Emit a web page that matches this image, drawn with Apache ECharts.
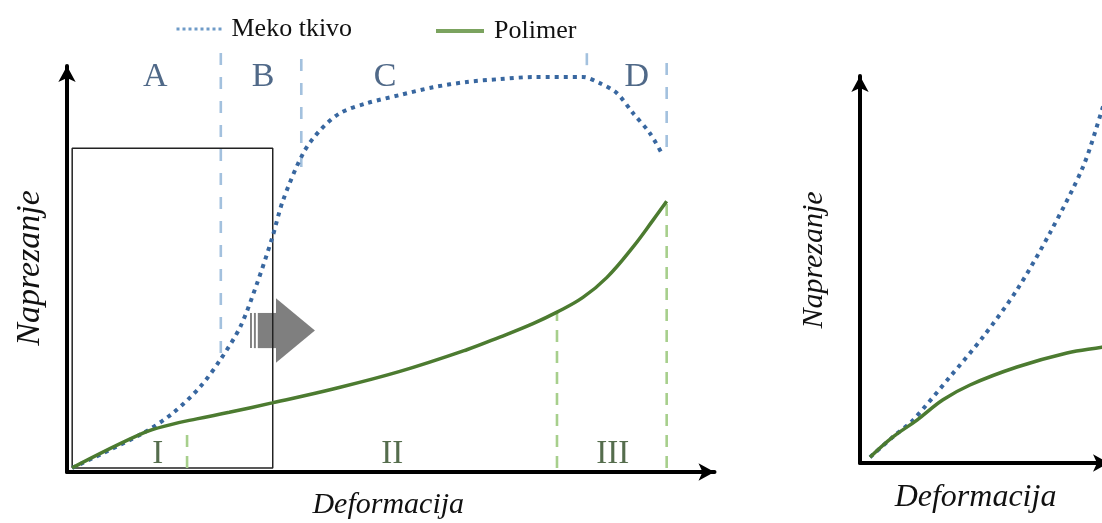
<!DOCTYPE html>
<html>
<head>
<meta charset="utf-8">
<script src="https://cdn.jsdelivr.net/npm/echarts@6/dist/echarts.min.js"></script>
<style>
  html, body { margin: 0; padding: 0; background: #ffffff; }
  #chart { width: 1102px; height: 523px; }
</style>
</head>
<body>
<div id="chart"></div>
<script>
// ---------- data (arbitrary strain / stress units) ----------
const seriesNames = ['Meko tkivo', 'Polimer'];

// left panel: full curves
const tissueStrain = [0.8, 11.7, 16.3, 20.5, 23.6, 26.7, 29.3, 31.6, 33.3, 36.4, 39.0, 42.1, 46.2, 51.3, 56.4, 61.6, 66.7, 71.8, 79.5, 82.1, 84.7, 87.2, 89.8, 91.8];
const tissueStress = [1.0, 9.5, 14.4, 20.8, 27.4, 35.5, 46.2, 57.2, 66.5, 78.0, 83.6, 87.8, 90.2, 92.2, 94.1, 95.4, 96.1, 96.6, 96.6, 95.1, 92.7, 87.8, 82.9, 77.5];
const polymerStrain = [0.8, 11.7, 16.0, 20.0, 25.0, 31.6, 41.0, 51.3, 61.6, 66.7, 71.8, 75.5, 79.5, 83.2, 87.2, 90.3, 92.4];
const polymerStress = [1.0, 9.5, 11.6, 13.0, 14.6, 16.9, 20.3, 24.6, 29.9, 33.0, 36.3, 39.1, 42.7, 47.6, 55.0, 61.6, 66.2];

// right panel: zoom of the initial region
const tissueZoomStrain = [2.5, 8.25, 13.25, 22.5, 30.75, 39.25, 47.5, 55.75, 60.5, 63.0];
const tissueZoomStress = [1.5, 6.7, 11.0, 22.1, 32.3, 44.4, 59.0, 75.9, 90.5, 99.0];
const polymerZoomStrain = [2.5, 8.25, 14.25, 20.75, 27.5, 39.25, 51.75, 60.5, 64.0];
const polymerZoomStress = [1.5, 6.7, 11.0, 16.2, 20.0, 24.6, 28.2, 29.7, 30.4];

// tissue region boundaries (A|B|C|D) and polymer region boundaries (I|II|III)
const tissueBounds = [23.7, 36.1, 80.1, 92.4];
const tissueBoundLow = [29.1, 74.6, 99.5, 79.5];
const tissueBoundHigh = [102.7, 102.7, 102.7, 102.7];
const polymerBounds = [18.5, 75.5, 92.4];
const polymerBoundLow = [1.0, 1.0, 1.0];
const polymerBoundHigh = [11.0, 39.1, 66.2];

// region labels
const tissueRegions = ['A', 'B', 'C', 'D'];
const tissueRegionX = [13.6, 30.2, 49.0, 87.8];
const tissueRegionY = 96.6;
const polymerRegions = ['I', 'II', 'III'];
const polymerRegionX = [14.0, 50.1, 84.1];
const polymerRegionY = 4.4;

// zoom window (rectangle) in left panel
const zoomBoxX = [0.8, 31.7];
const zoomBoxY = [1.0, 79.2];

// arrow glyph (data coords in left panel)
const arrowBodyX = [28.2, 32.2];
const arrowBodyY = [30.3, 38.9];
const arrowHeadY = [26.7, 42.5];
const arrowTipX = 38.2;
const arrowStripes = [[28.2, 28.5], [28.8, 29.1], [29.4, 32.2]];

const axisTitleX = 'Deformacija';
const axisTitleY = 'Naprezanje';

// ---------- styles ----------
const SERIF = '"Liberation Serif", "DejaVu Serif", serif';
const BLUE = '#3867a0';
const GREEN = '#4c7b30';
const LIGHT_BLUE = '#a3c1de';
const LIGHT_GREEN = '#a7cf8c';

const zip = (xs, ys) => xs.map((x, i) => [x, ys[i]]);

const tissueLine = { type: [4, 5], width: 4, color: BLUE };
const polymerLine = { type: 'solid', width: 3.5, color: GREEN };

const series = [];

// arrow (behind rectangle)
series.push({
  type: 'custom', xAxisIndex: 0, yAxisIndex: 0, silent: true, z: 1,
  data: [[arrowBodyX[0], arrowBodyY[0]]],
  renderItem: function (params, api) {
    const children = arrowStripes.map(function (s) {
      const p0 = api.coord([s[0], arrowBodyY[1]]);
      const p1 = api.coord([s[1], arrowBodyY[0]]);
      return { type: 'rect', shape: { x: p0[0], y: p0[1], width: p1[0] - p0[0], height: p1[1] - p0[1] },
               style: { fill: '#7f7f7f' } };
    });
    const mid = (arrowBodyY[0] + arrowBodyY[1]) / 2;
    const h = [
      api.coord([arrowBodyX[1], arrowHeadY[1]]),
      api.coord([arrowTipX, mid]),
      api.coord([arrowBodyX[1], arrowHeadY[0]])
    ];
    children.push({ type: 'polygon', shape: { points: h }, style: { fill: '#7f7f7f' } });
    return { type: 'group', children: children };
  }
});

// zoom rectangle
series.push({
  type: 'line', xAxisIndex: 0, yAxisIndex: 0, silent: true, symbol: 'none', z: 2,
  data: [[zoomBoxX[0], zoomBoxY[0]], [zoomBoxX[1], zoomBoxY[0]], [zoomBoxX[1], zoomBoxY[1]],
         [zoomBoxX[0], zoomBoxY[1]], [zoomBoxX[0], zoomBoxY[0]]],
  lineStyle: { color: '#222', width: 1.5 }
});

// region boundary dashed lines
tissueBounds.forEach(function (x, i) {
  series.push({
    type: 'line', xAxisIndex: 0, yAxisIndex: 0, silent: true, symbol: 'none', clip: false, z: 2,
    data: [[x, tissueBoundLow[i]], [x, tissueBoundHigh[i]]],
    lineStyle: { color: LIGHT_BLUE, width: 2.6, type: [12, 12] }
  });
});
polymerBounds.forEach(function (x, i) {
  series.push({
    type: 'line', xAxisIndex: 0, yAxisIndex: 0, silent: true, symbol: 'none', clip: false, z: 2,
    data: [[x, polymerBoundLow[i]], [x, polymerBoundHigh[i]]],
    lineStyle: { color: LIGHT_GREEN, width: 2.6, type: [12, 9] }
  });
});

// curves, left
series.push({
  name: seriesNames[0], type: 'line', xAxisIndex: 0, yAxisIndex: 0, symbol: 'none', smooth: 0.3, z: 3,
  data: zip(tissueStrain, tissueStress), lineStyle: tissueLine, itemStyle: { color: BLUE }
});
series.push({
  name: seriesNames[1], type: 'line', xAxisIndex: 0, yAxisIndex: 0, symbol: 'none', smooth: 0.4, z: 4,
  data: zip(polymerStrain, polymerStress), lineStyle: polymerLine, itemStyle: { color: GREEN }
});
// curves, right
series.push({
  name: seriesNames[0], type: 'line', xAxisIndex: 1, yAxisIndex: 1, symbol: 'none', smooth: 0.3, z: 3,
  data: zip(tissueZoomStrain, tissueZoomStress), lineStyle: tissueLine, itemStyle: { color: BLUE }
});
series.push({
  name: seriesNames[1], type: 'line', xAxisIndex: 1, yAxisIndex: 1, symbol: 'none', smooth: 0.4, z: 4,
  data: zip(polymerZoomStrain, polymerZoomStress), lineStyle: polymerLine, itemStyle: { color: GREEN }
});

// region labels
series.push({
  type: 'scatter', xAxisIndex: 0, yAxisIndex: 0, silent: true, symbolSize: 0, clip: false, z: 5,
  data: tissueRegions.map(function (n, i) { return { name: n, value: [tissueRegionX[i], tissueRegionY] }; }),
  label: { show: true, position: 'inside', formatter: '{b}', fontFamily: SERIF, fontSize: 34, color: '#24446a' }
});
series.push({
  type: 'scatter', xAxisIndex: 0, yAxisIndex: 0, silent: true, symbolSize: 0, clip: false, z: 5,
  data: polymerRegions.map(function (n, i) { return { name: n, value: [polymerRegionX[i], polymerRegionY] }; }),
  label: { show: true, position: 'inside', formatter: '{b}', fontFamily: SERIF, fontSize: 33, color: '#2a4820' }
});

const axisLine = {
  show: true, symbol: ['none', 'arrow'], symbolSize: [13, 16],
  lineStyle: { color: '#000', width: 4 }
};
const hidden = { axisTick: { show: false }, axisLabel: { show: false }, splitLine: { show: false } };

const option = {
  backgroundColor: '#ffffff',
  animation: false,
  grid: [
    { left: 67, top: 66, width: 647.5, height: 406, outerBoundsMode: 'none', containLabel: false },
    { left: 860, top: 76, width: 249, height: 387, outerBoundsMode: 'none', containLabel: false }
  ],
  xAxis: [
    Object.assign({ type: 'value', gridIndex: 0, min: 0, max: 99.77, axisLine: axisLine,
      name: axisTitleX, nameLocation: 'middle', nameGap: 18,
      nameTextStyle: { fontFamily: SERIF, fontStyle: 'italic', fontSize: 30, color: '#111', padding: [0, 5, 0, 0] } }, hidden),
    Object.assign({ type: 'value', gridIndex: 1, min: 0, max: 62.25, axisLine: axisLine,
      name: axisTitleX, nameLocation: 'middle', nameGap: 19,
      nameTextStyle: { fontFamily: SERIF, fontStyle: 'italic', fontSize: 32, color: '#111', padding: [0, 18, 0, 0] } }, hidden)
  ],
  yAxis: [
    Object.assign({ type: 'value', gridIndex: 0, min: 0, max: 99.3, axisLine: axisLine,
      name: axisTitleY, nameLocation: 'middle', nameGap: 20, nameRotate: 90,
      nameTextStyle: { fontFamily: SERIF, fontStyle: 'italic', fontSize: 34, color: '#111', padding: [0, 0, 0, 2] } }, hidden),
    Object.assign({ type: 'value', gridIndex: 1, min: 0, max: 99.2, axisLine: axisLine,
      name: axisTitleY, nameLocation: 'middle', nameGap: 31, nameRotate: 90,
      nameTextStyle: { fontFamily: SERIF, fontStyle: 'italic', fontSize: 30, color: '#111', padding: [0, 0, 0, 19] } }, hidden)
  ],
  legend: [
    { data: [seriesNames[0]], left: 170, top: 11, itemWidth: 47, itemHeight: 2, selectedMode: false,
      itemStyle: { color: 'rgba(0,0,0,0)', borderWidth: 0 },
      lineStyle: { color: '#6f9bc8', width: 3, type: [3, 3] },
      textStyle: { fontFamily: SERIF, fontSize: 26, color: '#111', padding: [0, 0, 0, 3] } },
    { data: [seriesNames[1]], left: 429, top: 13, itemWidth: 48, itemHeight: 2, selectedMode: false,
      itemStyle: { color: 'rgba(0,0,0,0)', borderWidth: 0 },
      lineStyle: { color: '#7ba35f', width: 4, type: 'solid' },
      textStyle: { fontFamily: SERIF, fontSize: 26, color: '#111', padding: [0, 0, 0, 5] } }
  ],
  series: series
};

const chart = echarts.init(document.getElementById('chart'), null, { renderer: 'canvas' });
chart.setOption(option);
</script>
</body>
</html>
